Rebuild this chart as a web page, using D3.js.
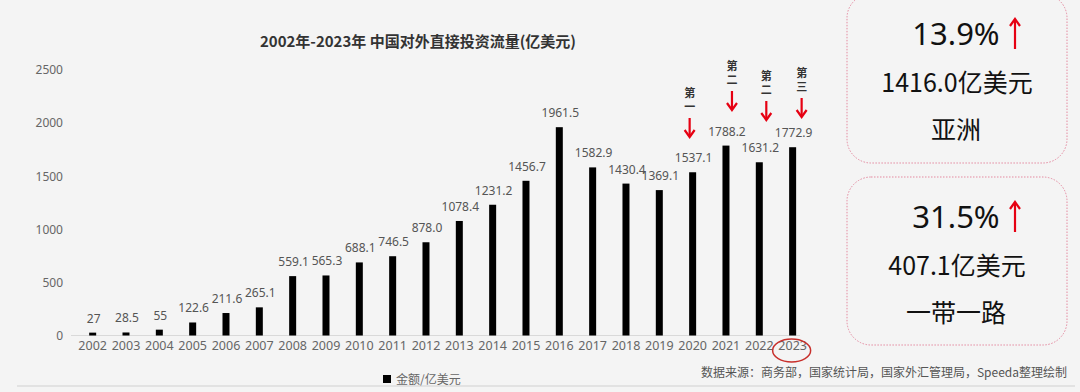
<!DOCTYPE html>
<html lang="zh">
<head>
<meta charset="UTF-8">
<title>中国对外直接投资流量</title>
<script src="https://cdn.jsdelivr.net/npm/d3@7/dist/d3.min.js"></script>
<style>
  body { margin: 0; background: #f4f4f4; }
  svg { display: block; font-family: "Noto Sans CJK SC", "Noto Sans", sans-serif; }
</style>
</head>
<body>
<script>
// data
const years = ["2002","2003","2004","2005","2006","2007","2008","2009","2010","2011","2012",
               "2013","2014","2015","2016","2017","2018","2019","2020","2021","2022","2023"];
const values = [27, 28.5, 55, 122.6, 211.6, 265.1, 559.1, 565.3, 688.1, 746.5, 878.0,
                1078.4, 1231.2, 1456.7, 1961.5, 1582.9, 1430.4, 1369.1, 1537.1, 1788.2, 1631.2, 1772.9];
const valueLabels = ["27","28.5","55","122.6","211.6","265.1","559.1","565.3","688.1","746.5","878.0",
                     "1078.4","1231.2","1456.7","1961.5","1582.9","1430.4","1369.1","1537.1","1788.2","1631.2","1772.9"];
const yTicks = [0, 500, 1000, 1500, 2000, 2500];
const rankNotes = [
  { year: "2020", chars: ["第", "一"], dx: -3, top: 92 },
  { year: "2021", chars: ["第", "二"], dx: 6, top: 65 },
  { year: "2022", chars: ["第", "二"], dx: 7, top: 75 },
  { year: "2023", chars: ["第", "三"], dx: 9, top: 72 }
];
const cards = [
  { pct: "13.9%", amount: "1416.0亿美元", region: "亚洲" },
  { pct: "31.5%", amount: "407.1亿美元", region: "一带一路" }
];

const width = 1080, height = 392;
const svg = d3.select("body").append("svg")
  .attr("width", width).attr("height", height);

svg.append("rect").attr("width", width).attr("height", height).attr("fill", "#f4f4f4");

// scales
const x = d3.scaleBand().domain(years).range([76, 809.3]);
const y = d3.scaleLinear().domain([0, 2500]).range([335.5, 70]);
const barW = 7;
const numFont = "'Noto Sans', 'Open Sans', sans-serif";

// title
svg.append("text")
  .attr("x", 418).attr("y", 47)
  .attr("text-anchor", "middle")
  .attr("font-size", 15).attr("font-weight", "bold").attr("fill", "#333")
  .text("2002年-2023年 中国对外直接投资流量(亿美元)");

// y axis
const yAxis = svg.append("g")
  .attr("transform", "translate(63,0)")
  .call(d3.axisLeft(y).tickValues(yTicks).tickFormat(d3.format("d")).tickSize(0).tickPadding(0));
yAxis.select(".domain").remove();
yAxis.selectAll("text").attr("font-size", 12).attr("fill", "#666")
  .style("font-family", numFont);

// baseline
svg.append("line")
  .attr("x1", 71).attr("x2", 800)
  .attr("y1", y(0)).attr("y2", y(0))
  .attr("stroke", "#d9d9d9").attr("stroke-width", 1);

// x axis labels
const xAxis = svg.append("g")
  .attr("transform", `translate(0,${y(0) + 6})`)
  .call(d3.axisBottom(x).tickSize(0).tickPadding(0));
xAxis.select(".domain").remove();
xAxis.selectAll("text").attr("font-size", 12.5).attr("fill", "#666")
  .style("font-family", numFont);

// bars
svg.selectAll("rect.bar")
  .data(values)
  .enter().append("rect")
  .attr("class", "bar")
  .attr("x", (d, i) => x(years[i]) + x.bandwidth() / 2 - barW / 2)
  .attr("y", d => y(d))
  .attr("width", barW)
  .attr("height", d => y(0) - y(d))
  .attr("fill", "#000");

// value labels
svg.selectAll("text.val")
  .data(values)
  .enter().append("text")
  .attr("class", "val")
  .attr("x", (d, i) => x(years[i]) + x.bandwidth() / 2 + 1)
  .attr("y", d => y(d) - 10)
  .attr("text-anchor", "middle")
  .attr("font-size", 12).attr("fill", "#555")
  .style("font-family", numFont)
  .text((d, i) => valueLabels[i]);

// red arrows (dir 1 = down, -1 = up)
const redArrow = (g, cx, y1, y2, dir) => {
  const tip = dir > 0 ? y2 : y1;
  g.append("line").attr("x1", cx).attr("x2", cx)
    .attr("y1", dir > 0 ? y1 : y1 + 2).attr("y2", dir > 0 ? y2 - 2 : y2)
    .attr("stroke", "#e60012").attr("stroke-width", 2.2);
  g.append("path")
    .attr("d", `M${cx - 5},${tip - 7 * dir} L${cx},${tip} L${cx + 5},${tip - 7 * dir}`)
    .attr("fill", "none").attr("stroke", "#e60012").attr("stroke-width", 2.2);
};
rankNotes.forEach(n => {
  const cx = x(n.year) + x.bandwidth() / 2 + n.dx;
  const g = svg.append("g");
  n.chars.forEach((c, k) => {
    g.append("text")
      .attr("x", cx).attr("y", n.top + 5 + k * 14)
      .attr("text-anchor", "middle")
      .attr("font-size", 11).attr("font-weight", "bold").attr("fill", "#333")
      .text(c);
  });
  redArrow(g, cx, n.top + 26, n.top + 45, 1);
});

// red circle around 2023
svg.append("ellipse")
  .attr("cx", x("2023") + x.bandwidth() / 2 - 1).attr("cy", y(0) + 15)
  .attr("rx", 19).attr("ry", 11.5)
  .attr("fill", "none").attr("stroke", "#c8302c").attr("stroke-width", 1.5);

// legend
svg.append("rect").attr("x", 383).attr("y", 375).attr("width", 8).attr("height", 8).attr("fill", "#000");
svg.append("text").attr("x", 396).attr("y", 384)
  .attr("font-size", 12).attr("fill", "#666").text("金额/亿美元");

// source
svg.append("text").attr("x", 1067).attr("y", 377)
  .attr("text-anchor", "end")
  .attr("font-size", 12).attr("fill", "#555")
  .text("数据来源：商务部，国家统计局，国家外汇管理局，Speeda整理绘制");

// bottom rule
svg.append("line").attr("x1", 17).attr("x2", 1075).attr("y1", 386).attr("y2", 386)
  .attr("stroke", "#cfcfcf").attr("stroke-width", 1.2);

// cards on the right
const cardTop = [-6, 177];
cards.forEach((c, i) => {
  const top = cardTop[i];
  const h = i === 0 ? 169 : 168;
  const g = svg.append("g");
  g.append("rect")
    .attr("x", 847).attr("y", top).attr("width", 220).attr("height", h)
    .attr("rx", 24).attr("ry", 24)
    .attr("fill", "none").attr("stroke", "#e48aa0").attr("stroke-width", 1)
    .attr("stroke-dasharray", "1.5,1.5");
  const base = i === 0 ? 0 : 183;
  g.append("text").attr("x", 956).attr("y", base + 45)
    .attr("text-anchor", "middle")
    .attr("font-size", 31).attr("fill", "#111")
    .style("font-family", numFont)
    .text(c.pct);
  redArrow(g, 1015, base + 19, base + 49, -1);
  g.append("text").attr("x", 957).attr("y", base + 92)
    .attr("text-anchor", "middle")
    .attr("font-size", 25).attr("fill", "#111").text(c.amount);
  g.append("text").attr("x", 956).attr("y", base + 139)
    .attr("text-anchor", "middle")
    .attr("font-size", 25).attr("fill", "#111").text(c.region);
});
</script>
</body>
</html>
